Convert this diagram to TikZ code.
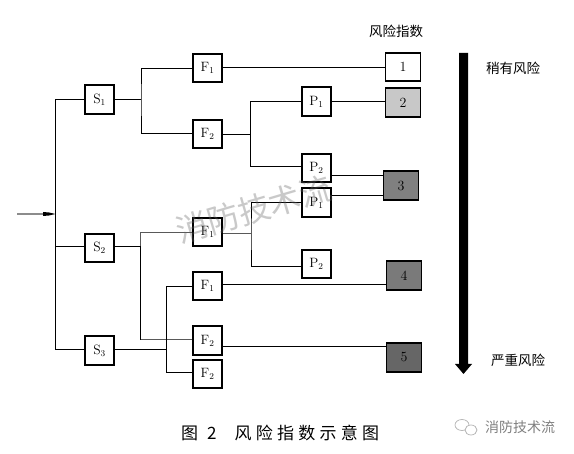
\documentclass[tikz,border=0pt]{standalone}
\usepackage{fontspec}
\newfontfamily\cjk{Noto Sans CJK SC}
\newfontfamily\cjkcap[LetterSpace=25]{Noto Sans CJK SC}
\definecolor{ba}{HTML}{C8C8C8}
\definecolor{bb}{HTML}{808080}
\definecolor{bc}{HTML}{7A7A7A}
\definecolor{bd}{HTML}{666666}
\tikzset{
  box/.style={draw=black,line width=1.8pt,fill=white,minimum width=28.5pt,minimum height=28.5pt,inner sep=0pt,font=\fontsize{13.5}{13.5}\selectfont},
  risk/.style={box,minimum width=35pt,font=\fontsize{14}{14}\selectfont},
  link/.style={draw=black,line width=0.9pt},
  soft/.style={draw=black!65,line width=1pt},
  label/.style={inner sep=0pt,font=\cjk\fontsize{13.5}{14}\selectfont,text=black}
}
\begin{document}
\begin{tikzpicture}[x=1pt,y=-1pt]
\useasboundingbox[fill=white] (0,0) rectangle (574,454);
% junction points
\coordinate (in) at (17,214);
\coordinate (trunk) at (55.5,214);
\coordinate (ba) at (141,99);
\coordinate (bb) at (250.5,134);
\coordinate (bc) at (140.5,246);
\coordinate (bd) at (251,234);
\coordinate (be) at (166.5,349);
% boxes
\node[box] (s1) at (99.5,99.5) {S$_1$};
\node[box] (s2) at (99.5,248) {S$_2$};
\node[box] (s3) at (99.5,350.5) {S$_3$};
\node[box] (fa) at (207.5,68) {F$_1$};
\node[box] (fb) at (207.5,134) {F$_2$};
\node[box] (fc) at (207.5,232) {F$_1$};
\node[box] (fd) at (207.5,286) {F$_1$};
\node[box] (fe) at (207.5,340.5) {F$_2$};
\node[box] (ff) at (207.5,374) {F$_2$};
\node[box] (pa) at (316.5,101.5) {P$_1$};
\node[box] (pb) at (316.5,168) {P$_2$};
\node[box] (pc) at (316.5,202.5) {P$_1$};
\node[box] (pd) at (316.5,264) {P$_2$};
\node[risk] (ra) at (403,67) {1};
\node[risk,fill=ba] (rb) at (403,102.5) {2};
\node[risk,fill=bb] (rc) at (401,185.5) {3};
\node[risk,fill=bc] (rd) at (404,275.5) {4};
\node[risk,fill=bd] (re) at (404,357.5) {5};
% connectors
\draw[link] (s1.west |- 0,99) -- (55.5,99) -- (55.5,349) -- (s3.west |- 0,349);
\draw[link] (55.5,246) -- (s2.west |- 0,246);
\draw[link] (s1.east |- 0,99) -- (ba);
\draw[link] (fa.west |- 0,68) -| (ba) |- (fb.west |- 0,133);
\draw[link] (fa.east |- 0,67) -- (ra.west |- 0,67);
\draw[link] (fb.east |- 0,134) -- (bb);
\draw[link] (pa.west |- 0,101) -| (bb) |- (pb.west |- 0,166);
\draw[link] (pa.east |- 0,101) -- (rb.west |- 0,101);
\draw[link] (pb.east |- 0,175) -- (rc.west |- 0,175);
\draw[link] (pc.east |- 0,195) -- (rc.west |- 0,195);
\draw[link] (s2.east |- 0,246) -- (bc);
\draw[soft] (fc.west |- 0,233) -| (bc);
\draw[link] (bc) -- (140.5,340);
\draw[soft] (140.5,340) -- (fe.west |- 0,340);
\draw[soft] (fc.east |- 0,234) -- (bd);
\draw[link] (pc.west |- 0,202) -| (bd) |- (pd.west |- 0,266);
\draw[link] (fd.east |- 0,284) -- (rd.west |- 0,284);
\draw[link] (fe.east |- 0,346) -- (re.west |- 0,346);
\draw[link] (s3.east |- 0,349) -- (be);
\draw[link] (fd.west |- 0,286) -| (be) |- (ff.west |- 0,372);
\draw[draw=black!45,line width=1.3pt] (in) -- (44,214);
\fill[black] (43,212) -- (49,212.5) -- (trunk) -- (49,215.5) -- (43,216) -- cycle;
% severity arrow
\fill[black] (459,53) -- (468,53) -- (468,364) -- (472,364) -- (463.5,374) -- (455,364) -- (459,364) -- cycle;
% labels
\node[label] (t1) at (396,31) {风险指数};
\node[label] (t2) at (513,68) {稍有风险};
\node[label] (t3) at (518,360) {严重风险};
\node[inner sep=0pt,anchor=west,font=\cjkcap\fontsize{17}{18}\selectfont,text=black] (cap) at (181,433) {图\hspace{9pt}2\hspace{18pt}风险指数示意图};
% watermark
\node[inner sep=0pt,rotate=16.5,opacity=0.35,text=black!60,font=\cjk\fontsize{32}{33}\selectfont] (wm) at (254,209) {消防技术流};
% logo and account name
\draw[black!30,line width=0.7pt] (462,425) ellipse (7pt and 5.5pt);
\draw[black!30,line width=0.7pt,fill=white] (471,430) ellipse (6pt and 5pt);
\node[inner sep=0pt,text=black!50,font=\cjk\fontsize{14}{15}\selectfont] (acc) at (520,427) {消防技术流};
\end{tikzpicture}
\end{document}
